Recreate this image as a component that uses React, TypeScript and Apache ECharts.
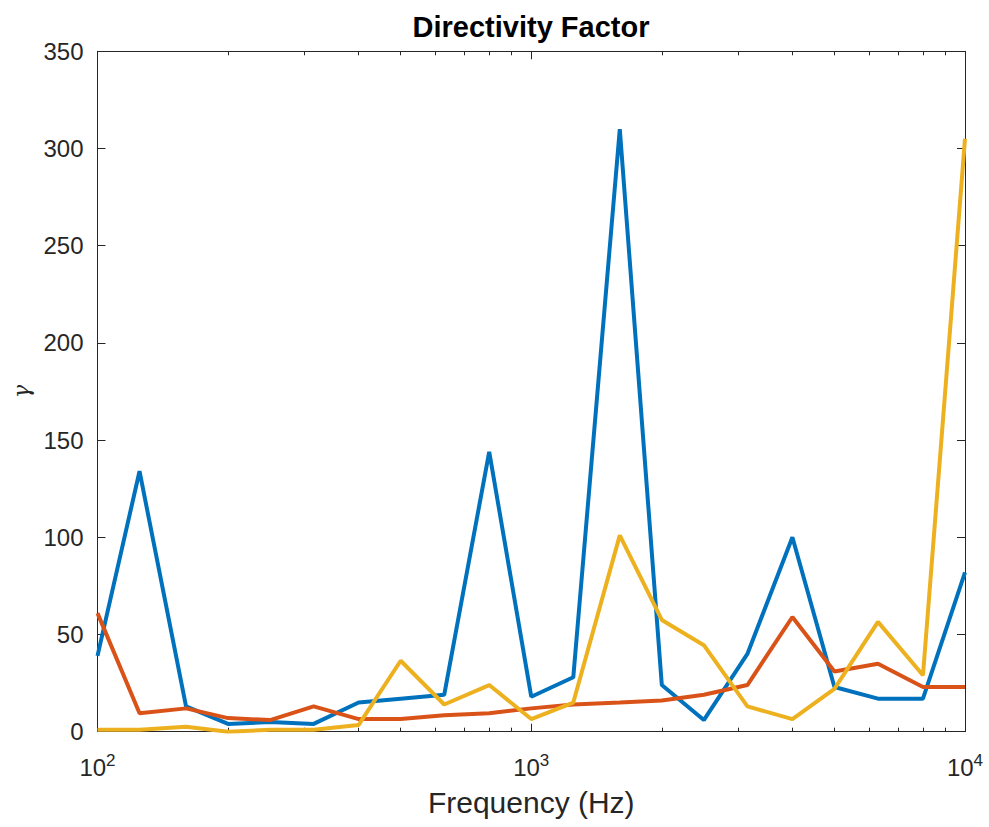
import React, { useEffect, useRef } from "react";
import * as echarts from "echarts";

const frequencies = [100, 125, 160, 200, 250, 315, 400, 500, 630, 800, 1000, 1250, 1600, 2000, 2500, 3150, 4000, 5000, 6300, 8000, 10000];
const seriesBlue = [39, 134, 13, 4, 5, 4, 15, 17, 19, 144, 18, 28, 310, 24, 6, 40, 100, 23, 17, 17, 82];
const seriesRed = [61, 9.5, 12, 7, 6, 13, 6.5, 6.5, 8.5, 9.5, 12, 14, 15, 16, 19, 24, 59, 31, 35, 23, 23];
const seriesYellow = [1, 1, 2.5, 0, 1, 1, 3.5, 36.5, 14, 24, 6.5, 15, 101, 57.5, 44.5, 13, 6.5, 22, 56.5, 29, 305];
const majorTicks = [100, 1000, 10000];
const minorTicks = [200, 300, 400, 500, 600, 700, 800, 900, 2000, 3000, 4000, 5000, 6000, 7000, 8000, 9000];
const yTicks = [0, 50, 100, 150, 200, 250, 300, 350];

const colors = ["#0072BD", "#D95319", "#EDB120"];
const AX = "#262626";
const FONT = "Liberation Sans, Arial, Helvetica, sans-serif";

export default function App() {
  const ref = useRef<HTMLDivElement>(null);
  useEffect(() => {
    if (!ref.current) return;
    const chart = echarts.init(ref.current, null, { renderer: "svg" });
    const mk = (vals: number[]) => frequencies.map((f, i) => [f, vals[i]]);
    const xBase = {
      type: "log" as const,
      logBase: 10,
      min: 100,
      max: 10000,
      splitLine: { show: false },
      axisLine: { show: true, onZero: false, lineStyle: { color: AX, width: 1 } },
    };
    const option: any = {
      animation: false,
      backgroundColor: "#ffffff",
      grid: { left: 97.5, right: 24, top: 51.3, bottom: 95.3, containLabel: false, outerBoundsMode: "none" },
      xAxis: [
        {
          ...xBase,
          position: "bottom",
          name: "Frequency (Hz)",
          nameLocation: "middle",
          nameGap: 56,
          nameTextStyle: { fontFamily: FONT, fontSize: 30, color: AX },
          axisTick: { show: true, inside: true, length: 8, customValues: majorTicks, lineStyle: { color: AX } },
          axisLabel: {
            show: true,
            customValues: majorTicks,
            margin: 20,
            formatter: (v: number) => `{b|10}{s|${Math.round(Math.log10(v))}}`,
            rich: {
              b: { fontFamily: FONT, fontSize: 24, color: AX, lineHeight: 28, verticalAlign: "bottom" },
              s: { fontFamily: FONT, fontSize: 17, color: AX, lineHeight: 28, verticalAlign: "top", padding: [0, 0, 10, 0] },
            },
          },
        },
        {
          ...xBase,
          position: "bottom",
          axisTick: { show: true, inside: true, length: 4, customValues: minorTicks, lineStyle: { color: AX } },
          axisLabel: { show: false },
        },
        {
          ...xBase,
          position: "top",
          axisTick: { show: true, inside: true, length: 8, customValues: majorTicks, lineStyle: { color: AX } },
          axisLabel: { show: false },
        },
        {
          ...xBase,
          position: "top",
          axisTick: { show: true, inside: true, length: 4, customValues: minorTicks, lineStyle: { color: AX } },
          axisLabel: { show: false },
        },
      ],
      yAxis: [
        {
          type: "value",
          min: 0,
          max: 350,
          interval: 50,
          position: "left",
          name: "γ",
          nameLocation: "middle",
          nameGap: 64,
          nameRotate: 90,
          nameTextStyle: { fontFamily: "DejaVu Serif, serif", fontStyle: "italic", fontSize: 22, color: AX },
          splitLine: { show: false },
          axisLine: { show: true, lineStyle: { color: AX, width: 1 } },
          axisTick: { show: true, inside: true, length: 8, customValues: yTicks, lineStyle: { color: AX } },
          axisLabel: { fontFamily: FONT, fontSize: 24, color: AX, margin: 14 },
        },
        {
          type: "value",
          min: 0,
          max: 350,
          interval: 50,
          position: "right",
          splitLine: { show: false },
          axisLine: { show: true, lineStyle: { color: AX, width: 1 } },
          axisTick: { show: true, inside: true, length: 8, lineStyle: { color: AX } },
          axisLabel: { show: false },
        },
      ],
      graphic: [
        {
          type: "text",
          x: 531,
          y: 27,
          style: {
            text: "Directivity Factor",
            textAlign: "center",
            textVerticalAlign: "middle",
            fontFamily: FONT,
            fontWeight: "bold",
            fontSize: 29,
            fill: "#000000",
          },
        },
      ],
      series: [
        { type: "line", data: mk(seriesBlue), showSymbol: false, symbol: "none", lineStyle: { color: colors[0], width: 4 }, itemStyle: { color: colors[0] }, xAxisIndex: 0, yAxisIndex: 0 },
        { type: "line", data: mk(seriesRed), showSymbol: false, symbol: "none", lineStyle: { color: colors[1], width: 4 }, itemStyle: { color: colors[1] }, xAxisIndex: 0, yAxisIndex: 0 },
        { type: "line", data: mk(seriesYellow), showSymbol: false, symbol: "none", lineStyle: { color: colors[2], width: 4 }, itemStyle: { color: colors[2] }, xAxisIndex: 0, yAxisIndex: 0 },
      ],
    };
    chart.setOption(option);
    return () => chart.dispose();
  }, []);
  return <div ref={ref} style={{ position: "absolute", left: 0, top: 0, width: 989, height: 827 }} />;
}
